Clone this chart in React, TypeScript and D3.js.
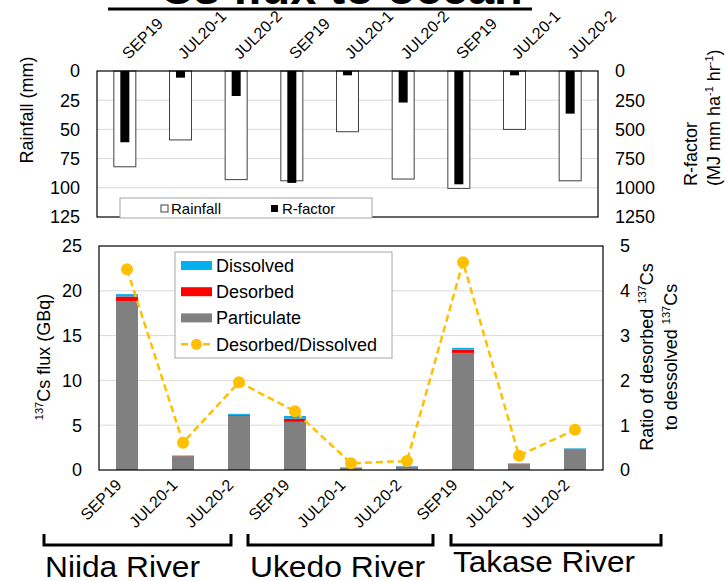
import React from "react";
import * as d3 from "d3";

const categories = ["SEP19", "JUL20-1", "JUL20-2", "SEP19", "JUL20-1", "JUL20-2", "SEP19", "JUL20-1", "JUL20-2"];
const rivers = ["Niida River", "Ukedo River", "Takase River"];
const rainfall = [82, 59, 93, 94, 52, 92.5, 100.5, 50, 94];
const rfactor = [610, 57, 214, 958, 37, 270, 970, 37, 365];
const particulate = [18.8, 1.55, 6.05, 5.37, 0.25, 0.36, 13.07, 0.66, 2.33];
const desorbed = [0.57, 0.02, 0.1, 0.36, 0.02, 0.03, 0.37, 0.02, 0.03];
const dissolved = [0.26, 0.05, 0.12, 0.3, 0.03, 0.05, 0.19, 0.06, 0.06];
const ratio = [4.48, 0.61, 1.96, 1.31, 0.15, 0.2, 4.64, 0.32, 0.9];
const rainTicks = [0, 25, 50, 75, 100, 125];
const rTicks = [0, 250, 500, 750, 1000, 1250];
const fluxTicks = [0, 5, 10, 15, 20, 25];
const ratioTicks = [0, 1, 2, 3, 4, 5];

const FONT = "'Liberation Sans', Arial, sans-serif";
const C_PART = "#808080";
const C_DES = "#FF0000";
const C_DIS = "#00B0F0";
const C_LINE = "#FFC000";

// layout
const TOP = { x0: 97, x1: 598, y0: 71, y1: 217 };
const BOT = { x0: 99, x1: 603, y0: 246, y1: 470 };
const BRACKETS = [
  [44, 231],
  [248, 433],
  [451, 661],
];
const RIVER_LABEL = [
  { x: 45, y: 577, w: 155 },
  { x: 250, y: 577, w: 175 },
  { x: 453, y: 572, w: 182 },
];

export default function App() {
  const idx = d3.range(categories.length);
  const xTop = d3.scaleBand<number>().domain(idx).range([TOP.x0, TOP.x1]);
  const xBot = d3.scaleBand<number>().domain(idx).range([BOT.x0, BOT.x1]);
  const yRain = d3.scaleLinear().domain([0, 125]).range([TOP.y0, TOP.y1]);
  const yR = d3.scaleLinear().domain([0, 1250]).range([TOP.y0, TOP.y1]);
  const yFlux = d3.scaleLinear().domain([0, 25]).range([BOT.y1, BOT.y0]);
  const yRatio = d3.scaleLinear().domain([0, 5]).range([BOT.y1, BOT.y0]);

  const rows = idx.map((i) => ({
    particulate: particulate[i],
    desorbed: desorbed[i],
    dissolved: dissolved[i],
  }));
  const stack = d3.stack<any>().keys(["particulate", "desorbed", "dissolved"])(rows);
  const colors: Record<string, string> = { particulate: C_PART, desorbed: C_DES, dissolved: C_DIS };

  const cxTop = (i: number) => (xTop(i) as number) + xTop.bandwidth() / 2;
  const cxBot = (i: number) => (xBot(i) as number) + xBot.bandwidth() / 2;

  const line = d3
    .line<number>()
    .x((d, i) => cxBot(i))
    .y((d) => yRatio(d));

  const rainW = 22;
  const rW = 9;
  const barW = 22;

  return (
    <svg
      width={726}
      height={581}
      style={{ position: "absolute", left: 0, top: 0, background: "#fff" }}
      fontFamily={FONT}
    >
      <rect x={0} y={0} width={726} height={581} fill="#fff" />
      {/* Title (mostly cut off) */}
      <text x={108} y={4} fontSize={47} fontWeight="bold" fill="#000">
        <tspan fontSize={31} dy={-18}>137</tspan>
        <tspan dy={18}>Cs flux to ocean</tspan>
      </text>
      <line x1={108} x2={532} y1={9} y2={9} stroke="#000" strokeWidth={3} />

      {/* top category labels */}
      {categories.map((c, i) => (
        <text
          key={"tl" + i}
          transform={`translate(${cxTop(i) + 4},${60}) rotate(-45)`}
          fontSize={16}
          fill="#000"
        >
          {c}
        </text>
      ))}

      {/* TOP PANEL */}
      {rainTicks.slice(1, -1).map((t) => (
        <line key={"tg" + t} x1={TOP.x0} x2={TOP.x1} y1={yRain(t)} y2={yRain(t)} stroke="#D9D9D9" strokeWidth={1} />
      ))}
      {idx.map((i) => (
        <rect
          key={"rb" + i}
          x={cxTop(i) - rainW / 2}
          y={yRain(0)}
          width={rainW}
          height={yRain(rainfall[i]) - yRain(0)}
          fill="#fff"
          stroke="#404040"
          strokeWidth={1}
        />
      ))}
      {idx.map((i) => (
        <rect
          key={"rf" + i}
          x={cxTop(i) - rW / 2}
          y={yR(0)}
          width={rW}
          height={yR(rfactor[i]) - yR(0)}
          fill="#000"
        />
      ))}
      <rect x={TOP.x0} y={TOP.y0} width={TOP.x1 - TOP.x0} height={TOP.y1 - TOP.y0} fill="none" stroke="#000" strokeWidth={1.2} />
      {/* top legend */}
      <rect x={120} y={198} width={252} height={20} fill="#fff" stroke="#A6A6A6" strokeWidth={1} />
      <rect x={161} y={205} width={7} height={7} fill="#fff" stroke="#404040" strokeWidth={1} />
      <text x={171} y={213.5} fontSize={15} fill="#000">Rainfall</text>
      <rect x={271} y={205} width={7} height={7} fill="#000" />
      <text x={282} y={213.5} fontSize={15} fill="#000">R-factor</text>

      {rainTicks.map((t) => (
        <text key={"lt" + t} x={80} y={yRain(t)} dy="0.35em" textAnchor="end" fontSize={18} fill="#000">
          {t}
        </text>
      ))}
      {rTicks.map((t) => (
        <text key={"rt" + t} x={615} y={yR(t)} dy="0.35em" textAnchor="start" fontSize={18} fill="#000">
          {t}
        </text>
      ))}
      <text transform={`translate(27,110) rotate(-90)`} dy="0.35em" textAnchor="middle" fontSize={18} fill="#000">
        Rainfall (mm)
      </text>
      <text transform={`translate(691,186) rotate(-90)`} dy="0.35em" textAnchor="start" fontSize={18} fill="#000">
        R-factor
      </text>
      <text transform={`translate(714,186) rotate(-90)`} dy="0.35em" textAnchor="start" fontSize={18} fill="#000">
        (MJ mm ha<tspan fontSize={11} dy={-7}>-1</tspan>
        <tspan dy={7}> hr</tspan>
        <tspan fontSize={11} dy={-7}>-1</tspan>
        <tspan dy={7}>)</tspan>
      </text>

      {/* BOTTOM PANEL */}
      {fluxTicks.slice(1, -1).map((t) => (
        <line key={"bg" + t} x1={BOT.x0} x2={BOT.x1} y1={yFlux(t)} y2={yFlux(t)} stroke="#D9D9D9" strokeWidth={1} />
      ))}
      {stack.map((layer) =>
        layer.map((seg, i) => (
          <rect
            key={layer.key + i}
            x={cxBot(i) - barW / 2}
            y={yFlux(seg[1])}
            width={barW}
            height={Math.max(0, yFlux(seg[0]) - yFlux(seg[1]))}
            fill={colors[layer.key]}
          />
        ))
      )}
      <path d={line(ratio) || ""} fill="none" stroke={C_LINE} strokeWidth={2.5} strokeDasharray="7,4" />
      {ratio.map((r, i) => (
        <circle key={"pt" + i} cx={cxBot(i)} cy={yRatio(r)} r={6} fill={C_LINE} />
      ))}
      <rect x={BOT.x0} y={BOT.y0} width={BOT.x1 - BOT.x0} height={BOT.y1 - BOT.y0} fill="none" stroke="#000" strokeWidth={1.2} />

      {/* bottom legend */}
      <rect x={175} y={252} width={217} height={106} fill="#fff" stroke="#A6A6A6" strokeWidth={1} />
      {[
        { label: "Dissolved", color: C_DIS },
        { label: "Desorbed", color: C_DES },
        { label: "Particulate", color: C_PART },
      ].map((d, k) => (
        <g key={"lg" + k}>
          <rect x={181} y={261 + k * 26.2} width={31} height={9} fill={d.color} />
          <text x={216} y={265.7 + k * 26.2} dy="0.35em" fontSize={18} fill="#000">
            {d.label}
          </text>
        </g>
      ))}
      <line x1={181} x2={212} y1={344.3} y2={344.3} stroke={C_LINE} strokeWidth={2.5} strokeDasharray="7,4" />
      <circle cx={196.5} cy={344.3} r={5.5} fill={C_LINE} />
      <text x={216} y={344.3} dy="0.35em" fontSize={18} fill="#000">Desorbed/Dissolved</text>

      {fluxTicks.map((t) => (
        <text key={"bl" + t} x={82} y={yFlux(t)} dy="0.35em" textAnchor="end" fontSize={18} fill="#000">
          {t}
        </text>
      ))}
      {ratioTicks.map((t) => (
        <text key={"br" + t} x={620} y={yRatio(t)} dy="0.35em" textAnchor="start" fontSize={18} fill="#000">
          {t}
        </text>
      ))}
      <text transform={`translate(50,357) rotate(-90)`} dy="0.35em" textAnchor="middle" fontSize={18} fill="#000">
        <tspan fontSize={11} dy={-7}>137</tspan>
        <tspan dy={7}>Cs flux (GBq)</tspan>
      </text>
      <text transform={`translate(647,357) rotate(-90)`} dy="0.35em" textAnchor="middle" fontSize={18} fill="#000">
        Ratio of desorbed <tspan fontSize={11} dy={-7}>137</tspan>
        <tspan dy={7}>Cs</tspan>
      </text>
      <text transform={`translate(671,357) rotate(-90)`} dy="0.35em" textAnchor="middle" fontSize={18} fill="#000">
        to dessolved <tspan fontSize={11} dy={-7}>137</tspan>
        <tspan dy={7}>Cs</tspan>
      </text>

      {/* bottom category labels */}
      {categories.map((c, i) => (
        <text
          key={"bl2" + i}
          transform={`translate(${cxBot(i) - 4.5},${486}) rotate(-45)`}
          textAnchor="end"
          fontSize={16}
          fill="#000"
        >
          {c}
        </text>
      ))}

      {/* brackets and river labels */}
      {BRACKETS.map(([a, b], k) => (
        <path
          key={"br" + k}
          d={`M${a},534 L${a},545 L${b},545 L${b},534`}
          fill="none"
          stroke="#000"
          strokeWidth={3}
        />
      ))}
      {rivers.map((r, k) => (
        <text
          key={"rv" + k}
          x={RIVER_LABEL[k].x}
          y={RIVER_LABEL[k].y}
          fontSize={30}
          fill="#000"
          textLength={RIVER_LABEL[k].w}
          lengthAdjust="spacingAndGlyphs"
        >
          {r}
        </text>
      ))}
    </svg>
  );
}
